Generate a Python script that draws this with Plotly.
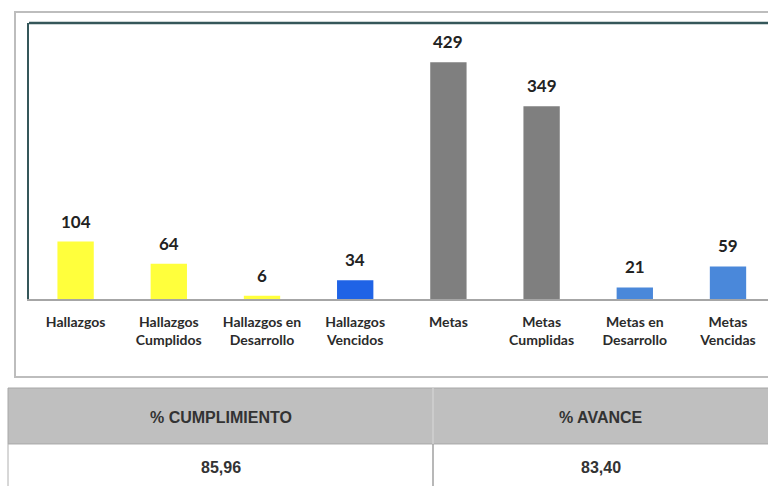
import plotly.graph_objects as go

# chart data
categorias = [
    "Hallazgos", "Hallazgos<br>Cumplidos", "Hallazgos en<br>Desarrollo", "Hallazgos<br>Vencidos",
    "Metas", "Metas<br>Cumplidas", "Metas en<br>Desarrollo", "Metas<br>Vencidas",
]
valores = [104, 64, 6, 34, 429, 349, 21, 59]

# summary table
encabezados = ["% CUMPLIMIENTO", "% AVANCE"]
porcentajes = ["85,96", "83,40"]

colores = ["#FFFF3C", "#FFFF3C", "#FFFF3C", "#1F63E6",
           "#7F7F7F", "#7F7F7F", "#4A88DA", "#4A88DA"]

W, H = 768, 486


def px_x(v):
    return v / W


def px_y(v):
    return 1 - v / H


fig = go.Figure()

fig.add_trace(go.Bar(
    x=categorias,
    y=valores,
    marker=dict(color=colores, line=dict(width=0)),
    width=0.39,
    hoverinfo="x+y",
))

# value labels above bars
for c, v in zip(categorias, valores):
    fig.add_annotation(
        x=c, y=v, text=f"<b>{v}</b>", showarrow=False,
        yanchor="bottom", yshift=8,
        font=dict(family="Lato, Open Sans, sans-serif", size=17, color="#222222"),
    )

fig.update_xaxes(
    domain=[px_x(29), 1],
    range=[-0.5, -0.5 + (W - 29) / 93.2],
    showline=True, linecolor="#A6A6A6", linewidth=1.5,
    ticks="", ticklabelstandoff=9,
    tickfont=dict(family="Lato, Open Sans, sans-serif", size=14, color="#2B2B2B"),
    tickprefix="<b>", ticksuffix="</b>",
    showgrid=False,
)
fig.update_yaxes(
    domain=[px_y(299), px_y(23)],
    range=[0, 500],
    showticklabels=False, showgrid=False, zeroline=False,
    showline=True, linecolor="#35575A", linewidth=2,
)

# table geometry (pixels)
tabla_x = [8, 433, 770]
tabla_y = [388, 444, 490]

shapes = [
    # outer chart frame
    dict(type="rect", xref="paper", yref="paper",
         x0=px_x(15), x1=1.01, y0=px_y(377), y1=px_y(12),
         line=dict(color="#BDBDBD", width=2), fillcolor="rgba(0,0,0,0)", layer="below"),
    # plot area top border
    dict(type="line", xref="paper", yref="paper",
         x0=px_x(29), x1=1, y0=px_y(23), y1=px_y(23),
         line=dict(color="#35575A", width=2.5)),
    # table header band
    dict(type="rect", xref="paper", yref="paper",
         x0=px_x(tabla_x[0]), x1=1.01, y0=px_y(tabla_y[1]), y1=px_y(tabla_y[0]),
         line=dict(color="#A8A8A8", width=1), fillcolor="#BFBFBF"),
    # value row
    dict(type="rect", xref="paper", yref="paper",
         x0=px_x(tabla_x[0]), x1=1.01, y0=px_y(tabla_y[2]), y1=px_y(tabla_y[1]),
         line=dict(color="#B0B0B0", width=1), fillcolor="white"),
    # column divider
    dict(type="line", xref="paper", yref="paper",
         x0=px_x(tabla_x[1]), x1=px_x(tabla_x[1]), y0=px_y(tabla_y[0]), y1=px_y(tabla_y[1]),
         line=dict(color="#D0D0D0", width=1.5)),
    dict(type="line", xref="paper", yref="paper",
         x0=px_x(tabla_x[1]), x1=px_x(tabla_x[1]), y0=px_y(tabla_y[2]), y1=px_y(tabla_y[1]),
         line=dict(color="#A0A0A0", width=1.5)),
]

tabla_font = dict(family="Liberation Sans, Arial, sans-serif", size=16, color="#333333")
for i, (h, p) in enumerate(zip(encabezados, porcentajes)):
    xc = px_x((tabla_x[i] + min(tabla_x[i + 1], W)) / 2)
    fig.add_annotation(
        x=xc, y=px_y(417), xref="paper", yref="paper",
        xanchor="center", yanchor="middle",
        text=f"<b>{h}</b>", showarrow=False, font=tabla_font,
    )
    fig.add_annotation(
        x=xc, y=px_y(467), xref="paper", yref="paper",
        xanchor="center", yanchor="middle",
        text=f"<b>{p}</b>", showarrow=False, font=tabla_font,
    )

fig.update_layout(
    width=W, height=H,
    margin=dict(l=0, r=0, t=0, b=0),
    paper_bgcolor="white",
    plot_bgcolor="white",
    showlegend=False,
    shapes=shapes,
)

fig.write_html(
    "out.html",
    config={"displayModeBar": False},
    post_script="document.body.style.margin='0';document.body.style.overflow='hidden';",
)
